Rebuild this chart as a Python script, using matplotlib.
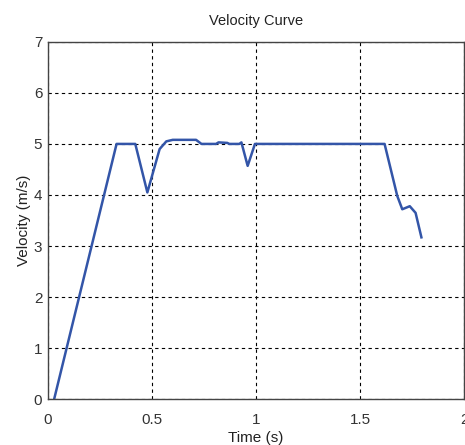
import matplotlib
matplotlib.use("Agg")
import matplotlib.pyplot as plt

# Values
time_s = [0.03, 0.33, 0.42, 0.478, 0.537, 0.569, 0.60, 0.712, 0.738, 0.808,
          0.82, 0.862, 0.872, 0.92, 0.93, 0.96, 0.995, 1.618, 1.679, 1.703,
          1.739, 1.767, 1.795]
velocity = [0.0, 5.0, 5.0, 4.05, 4.9, 5.05, 5.08, 5.08, 5.0, 5.0,
            5.03, 5.02, 5.0, 5.0, 5.03, 4.57, 5.0, 5.0, 3.98, 3.72,
            3.78, 3.65, 3.17]
x_ticks = [0, 0.5, 1, 1.5, 2]
x_labels = ["0", "0.5", "1", "1.5", "2"]
y_ticks = [0, 1, 2, 3, 4, 5, 6, 7]

plt.rcParams["font.family"] = ["Liberation Sans", "DejaVu Sans"]

fig = plt.figure(figsize=(4.65, 4.45), dpi=100)
ax = fig.add_axes([0.103, 0.103, 0.895, 0.803])

ax.plot(time_s, velocity, color="#3355a8", linewidth=1.8)

ax.set_xlim(0, 2)
ax.set_ylim(0, 7)
ax.set_xticks(x_ticks, x_labels)
ax.set_yticks(y_ticks)
ax.tick_params(direction="in", length=0, labelsize=11, colors="#333333")
ax.tick_params(axis="x", pad=10)
ax.tick_params(axis="y", pad=4)
ax.grid(True, color="black", linestyle=(0, (3, 3)), linewidth=0.8)
for sp in ax.spines.values():
    sp.set_color("#444444")
    sp.set_linewidth(1.0)

ax.set_title("Velocity Curve", fontsize=10.5, color="#222222", pad=12)
ax.set_xlabel("Time (s)", fontsize=11, color="#222222", labelpad=3)
ax.set_ylabel("Velocity (m/s)", fontsize=11, color="#222222", labelpad=2)

fig.savefig("out.png", dpi=100)
